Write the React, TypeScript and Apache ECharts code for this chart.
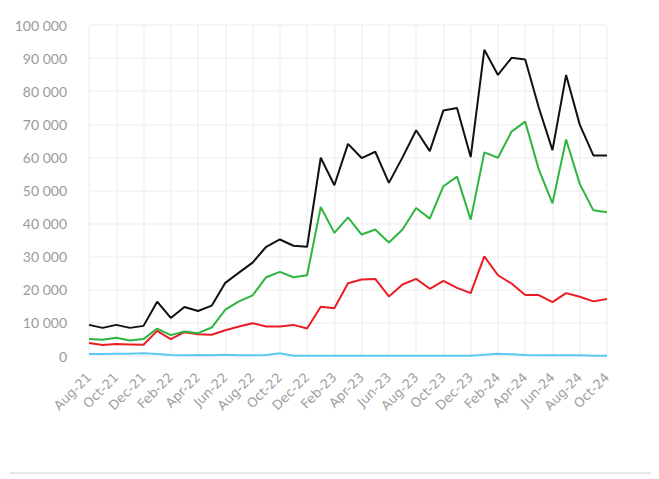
import React, { useEffect, useRef } from "react";
import * as echarts from "echarts";

const months = [
  "Aug-21","Sep-21","Oct-21","Nov-21","Dec-21","Jan-22","Feb-22","Mar-22","Apr-22","May-22",
  "Jun-22","Jul-22","Aug-22","Sep-22","Oct-22","Nov-22","Dec-22","Jan-23","Feb-23","Mar-23",
  "Apr-23","May-23","Jun-23","Jul-23","Aug-23","Sep-23","Oct-23","Nov-23","Dec-23","Jan-24",
  "Feb-24","Mar-24","Apr-24","May-24","Jun-24","Jul-24","Aug-24","Sep-24","Oct-24",
];

const totalSeries = [
  9400, 8500, 9400, 8500, 9100, 16400, 11500, 14800, 13600, 15200,
  22100, 25200, 28200, 33000, 35200, 33300, 33000, 59900, 51600, 64100,
  59800, 61700, 52300, 60000, 68200, 61900, 74200, 74900, 60100, 92500,
  84900, 90100, 89600, 75000, 62200, 84900, 69900, 60600, 60600,
];

const greenSeries = [
  5100, 4900, 5500, 4700, 5100, 8300, 6300, 7400, 6900, 8600,
  14000, 16500, 18300, 23800, 25400, 23800, 24400, 45000, 37200, 41900,
  36700, 38200, 34300, 38200, 44700, 41500, 51300, 54200, 41200, 61500,
  59900, 67800, 70800, 56300, 46100, 65400, 52000, 44000, 43400,
];

const redSeries = [
  3900, 3300, 3600, 3500, 3400, 7600, 5100, 7200, 6600, 6400,
  7800, 8900, 9900, 8900, 8900, 9400, 8300, 14900, 14400, 22000,
  23100, 23300, 18000, 21600, 23300, 20300, 22700, 20600, 19000, 30100,
  24400, 21900, 18400, 18400, 16300, 19000, 17900, 16500, 17200,
];

const blueSeries = [
  600, 600, 700, 700, 800, 600, 300, 200, 300, 200,
  400, 200, 200, 300, 800, 100, 100, 100, 100, 100,
  100, 100, 100, 100, 100, 100, 100, 100, 100, 400,
  700, 500, 300, 200, 200, 200, 200, 100, 100,
];

const yTicks = [0, 10000, 20000, 30000, 40000, 50000, 60000, 70000, 80000, 90000, 100000];

const fmt = (v: number) => String(v).replace(/\B(?=(\d{3})+(?!\d))/g, " ");

export default function App() {
  const ref = useRef<HTMLDivElement>(null);
  useEffect(() => {
    if (!ref.current) return;
    const chart = echarts.init(ref.current, undefined, { renderer: "svg" });
    const mk = (name: string, data: number[], color: string) => ({
      name,
      type: "line",
      data,
      showSymbol: false,
      symbol: "none",
      lineStyle: { color, width: 2 },
      itemStyle: { color },
    });
    chart.setOption({
      animation: false,
      backgroundColor: "#ffffff",
      grid: { left: 81, right: 52, top: 17, bottom: 123, containLabel: false },
      xAxis: {
        type: "category",
        data: months,
        boundaryGap: false,
        axisLine: { show: false },
        axisTick: { show: false },
        axisLabel: {
          interval: 1,
          rotate: 45,
          color: "#a0a0a0",
          fontSize: 13,
          fontFamily: "DejaVu Sans",
          margin: 19,
        },
        splitLine: { show: true, interval: 1, lineStyle: { color: "#f2f2f2", width: 1.5 } },
      },
      yAxis: {
        type: "value",
        min: yTicks[0],
        max: yTicks[yTicks.length - 1],
        interval: 10000,
        axisLine: { show: false },
        axisTick: { show: false },
        axisLabel: {
          color: "#9a9a9a",
          fontSize: 14,
          fontFamily: "Lato",
          margin: 22,
          formatter: (v: number) => fmt(v),
        },
        splitLine: { show: true, lineStyle: { color: "#f2f2f2", width: 1.5 } },
      },
      graphic: [
        {
          type: "line",
          shape: { x1: 2, y1: 465, x2: 651, y2: 465 },
          style: { stroke: "#e6e6e6", lineWidth: 2 },
        },
      ],
      series: [
        mk("Blue", blueSeries, "#5ec8f5"),
        mk("Red", redSeries, "#ec1c24"),
        mk("Green", greenSeries, "#2fb53f"),
        mk("Total", totalSeries, "#111111"),
      ],
    });
    return () => chart.dispose();
  }, []);
  return <div ref={ref} style={{ width: 651, height: 471 }} />;
}
